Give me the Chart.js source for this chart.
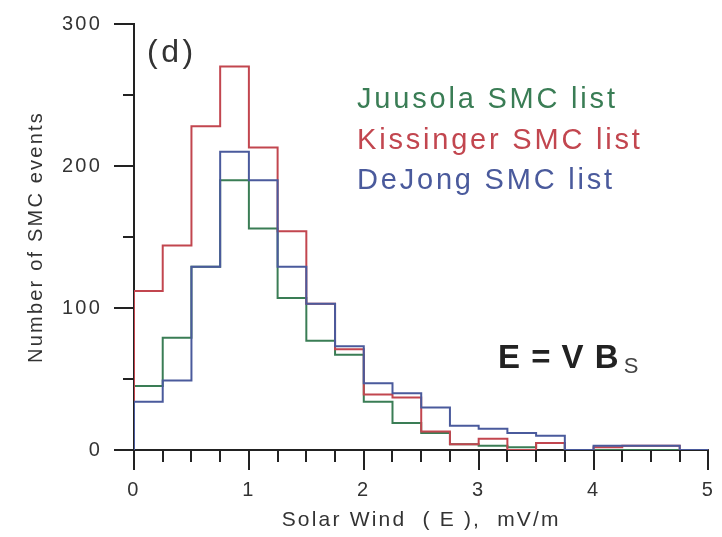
<!DOCTYPE html>
<html>
<head>
<meta charset="utf-8">
<script src="https://cdn.jsdelivr.net/npm/chart.js@4.4.0/dist/chart.umd.min.js"></script>
<style>
body { margin: 0; background: #fff; }
</style>
</head>
<body>
<canvas id="myChart" width="722" height="537"></canvas>
<script>
// histogram bins (left edges), width 0.25 mV/m
var binStarts = [0, 0.25, 0.5, 0.75, 1, 1.25, 1.5, 1.75, 2, 2.25, 2.5, 2.75, 3, 3.25, 3.5, 3.75, 4, 4.25, 4.5, 4.75];
var xMax = 5;
var juusola   = [45, 79, 129, 190, 156, 107, 77, 67, 34, 19, 12, 4, 3, 2, 5, 0, 0, 0, 0, 0];
var kissinger = [112, 144, 228, 270, 213, 154, 103, 71, 39, 37, 13, 4, 8, 0, 5, 0, 2, 3, 3, 0];
var dejong    = [34, 49, 129, 210, 190, 129, 103, 73, 47, 40, 30, 17, 15, 12, 10, 0, 3, 3, 3, 0];
var seriesNames = ["Juusola SMC list", "Kissinger SMC list", "DeJong SMC list"];
var seriesColors = ["#3a7d55", "#c2464f", "#4a5a9c"];
var xTicks = [0, 1, 2, 3, 4, 5];
var yTicks = [0, 100, 200, 300];
var yMinor = [50, 150, 250];

function histPoints(vals) {
    var pts = [{x: binStarts[0], y: 0}];
    for (var i = 0; i < vals.length; i++) {
        pts.push({x: binStarts[i], y: vals[i]});
    }
    pts.push({x: xMax, y: vals[vals.length - 1]});
    return pts;
}

Chart.defaults.font.family = "'Liberation Sans', Arial, sans-serif";
Chart.defaults.color = "#333";

var axisColor = "#222";

var spacingPlugin = {
    id: 'spacing',
    beforeDraw: function(chart) {
        chart.ctx.letterSpacing = '2.2px';
    }
};

var extrasPlugin = {
    id: 'extras',
    afterDraw: function(chart) {
        var ctx = chart.ctx;
        var xs = chart.scales.x, ys = chart.scales.y;
        var area = chart.chartArea;
        ctx.save();
        // minor ticks
        ctx.strokeStyle = axisColor;
        ctx.lineWidth = 2;
        ctx.beginPath();
        for (var i = 0; i < binStarts.length; i++) {
            if (xTicks.indexOf(binStarts[i]) >= 0) continue;
            var px = Math.round(xs.getPixelForValue(binStarts[i]));
            ctx.moveTo(px, area.bottom);
            ctx.lineTo(px, area.bottom + 12);
        }
        for (var j = 0; j < yMinor.length; j++) {
            var py = Math.round(ys.getPixelForValue(yMinor[j]));
            ctx.moveTo(area.left - 11, py);
            ctx.lineTo(area.left, py);
        }
        ctx.stroke();

        ctx.textAlign = 'left';
        ctx.textBaseline = 'alphabetic';
        // panel label
        ctx.letterSpacing = '3.5px';
        ctx.fillStyle = '#333';
        ctx.font = "32px 'Liberation Sans', Arial, sans-serif";
        ctx.fillText("(d)", 147, 62);

        // legend
        ctx.letterSpacing = '2.8px';
        ctx.font = "29px 'Liberation Sans', Arial, sans-serif";
        var baselines = [108, 149, 189];
        for (var k = 0; k < seriesNames.length; k++) {
            ctx.fillStyle = seriesColors[k];
            ctx.fillText(seriesNames[k], 357, baselines[k]);
        }

        // formula
        ctx.letterSpacing = '1px';
        ctx.fillStyle = '#222';
        ctx.font = "bold 33px 'Liberation Sans', Arial, sans-serif";
        ctx.fillText("E = V B", 498, 368);
        var w = ctx.measureText("E = V B").width;
        ctx.font = "22px 'Liberation Sans', Arial, sans-serif";
        ctx.fillStyle = '#444';
        ctx.fillText("S", 498 + w + 4, 373);
        ctx.restore();
    }
};

var ctx = document.getElementById("myChart");
var myChart = new Chart(ctx, {
    type: 'line',
    data: {
        datasets: [
            {label: seriesNames[2], data: histPoints(dejong), borderColor: seriesColors[2]},
            {label: seriesNames[1], data: histPoints(kissinger), borderColor: seriesColors[1]},
            {label: seriesNames[0], data: histPoints(juusola), borderColor: seriesColors[0]}
        ]
    },
    options: {
        responsive: false,
        devicePixelRatio: 1,
        animation: false,
        datasets: {
            line: {stepped: 'before', borderWidth: 2, pointRadius: 0, fill: false, tension: 0}
        },
        layout: {padding: {top: 22, right: 9, left: 0, bottom: 0}},
        plugins: {
            legend: {display: false},
            tooltip: {enabled: false},
            title: {display: false}
        },
        scales: {
            x: {
                type: 'linear',
                min: 0,
                max: xMax,
                afterBuildTicks: function(scale) {
                    scale.ticks = xTicks.map(function(v) { return {value: v}; });
                },
                afterFit: function(scale) { scale.height = 87; },
                grid: {drawOnChartArea: false, tickLength: 20, tickColor: axisColor, lineWidth: 2},
                border: {color: axisColor, width: 2},
                ticks: {font: {size: 20}, color: '#333', padding: 8, maxRotation: 0},
                title: {display: true, text: "Solar Wind  ( E ),  mV/m", font: {size: 21}, color: '#333', padding: {top: 0, bottom: 4}}
            },
            y: {
                min: 0,
                max: 300,
                afterBuildTicks: function(scale) {
                    scale.ticks = yTicks.map(function(v) { return {value: v}; });
                },
                afterFit: function(scale) { scale.width = 134; },
                grid: {drawOnChartArea: false, tickLength: 20, tickColor: axisColor, lineWidth: 2},
                border: {color: axisColor, width: 2},
                ticks: {font: {size: 20}, color: '#333', padding: 12},
                title: {display: true, text: "Number of SMC events", font: {size: 20}, color: '#333', padding: {top: 24, bottom: 0}}
            }
        }
    },
    plugins: [spacingPlugin, extrasPlugin]
});
</script>
</body>
</html>
